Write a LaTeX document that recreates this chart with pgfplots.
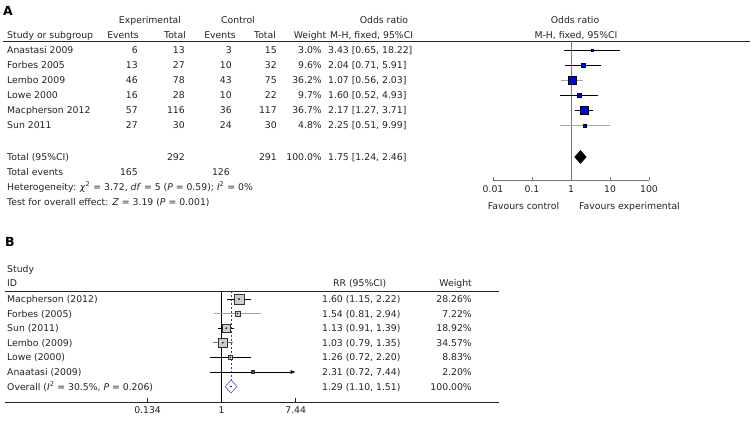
\documentclass[border=0pt]{standalone}
\usepackage{fontspec}
\setmainfont{DejaVu Sans}
\usepackage{pgfplots}
\pgfplotsset{compat=1.18}
\usetikzlibrary{arrows.meta}

\definecolor{fpblue}{RGB}{0,0,255}
\definecolor{dblue}{RGB}{80,80,225}
\definecolor{lgray}{RGB}{165,165,165}
\definecolor{mgray}{RGB}{120,120,120}
\definecolor{sqgray}{RGB}{205,205,205}
\definecolor{txt}{RGB}{35,35,35}

\newcommand{\fs}{\fontsize{9.3bp}{11bp}\selectfont}
% text node: anchor, x(px), y(px centre of row), text
\newcommand{\TX}[4]{\node[anchor=#1, inner sep=0pt, text=txt] at (axis cs:#2,{-(#3)-3.5}) {#4};}

\begin{document}
\fs
\begin{tikzpicture}[font=\fs]
\useasboundingbox (0,0) rectangle (754bp,422bp);

%================ canvas for text and rules ================
\begin{axis}[at={(0,0)}, anchor=south west, scale only axis,
  width=754bp, height=422bp, xmin=0, xmax=754, ymin=-422, ymax=0,
  hide axis, clip=false]
% ---- Panel A ----
\node[anchor=base west, inner sep=0pt, font=\fontsize{12.5bp}{14bp}\selectfont\bfseries] at (axis cs:3,-16) {A};
\TX{base}{150}{20}{Experimental}
\TX{base}{238}{20}{Control}
\TX{base}{384}{20}{Odds ratio}
\TX{base}{575}{20}{Odds ratio}
\TX{base west}{7}{35}{Study or subgroup}
\TX{base}{123}{35}{Events}
\TX{base}{175}{35}{Total}
\TX{base}{220}{35}{Events}
\TX{base}{265}{35}{Total}
\TX{base}{310}{35}{Weight}
\TX{base west}{330}{35}{M-H, fixed, 95\%CI}
\TX{base}{576}{35}{M-H, fixed, 95\%CI}
\addplot[black!85, line width=0.8bp] coordinates {(3,-41) (750,-41)};
% rows
\TX{base west}{7}{50}{Anastasi 2009}
\TX{base east}{138}{50}{6}
\TX{base east}{185}{50}{13}
\TX{base east}{232}{50}{3}
\TX{base east}{277}{50}{15}
\TX{base east}{322}{50}{3.0\%}
\TX{base west}{328}{50}{3.43 [0.65, 18.22]}
\TX{base west}{7}{65.1}{Forbes 2005}
\TX{base east}{138}{65.1}{13}
\TX{base east}{185}{65.1}{27}
\TX{base east}{232}{65.1}{10}
\TX{base east}{277}{65.1}{32}
\TX{base east}{322}{65.1}{9.6\%}
\TX{base west}{328}{65.1}{2.04 [0.71, 5.91]}
\TX{base west}{7}{80.2}{Lembo 2009}
\TX{base east}{138}{80.2}{46}
\TX{base east}{185}{80.2}{78}
\TX{base east}{232}{80.2}{43}
\TX{base east}{277}{80.2}{75}
\TX{base east}{322}{80.2}{36.2\%}
\TX{base west}{328}{80.2}{1.07 [0.56, 2.03]}
\TX{base west}{7}{95.3}{Lowe 2000}
\TX{base east}{138}{95.3}{16}
\TX{base east}{185}{95.3}{28}
\TX{base east}{232}{95.3}{10}
\TX{base east}{277}{95.3}{22}
\TX{base east}{322}{95.3}{9.7\%}
\TX{base west}{328}{95.3}{1.60 [0.52, 4.93]}
\TX{base west}{7}{110.4}{Macpherson 2012}
\TX{base east}{138}{110.4}{57}
\TX{base east}{185}{110.4}{116}
\TX{base east}{232}{110.4}{36}
\TX{base east}{277}{110.4}{117}
\TX{base east}{322}{110.4}{36.7\%}
\TX{base west}{328}{110.4}{2.17 [1.27, 3.71]}
\TX{base west}{7}{125.5}{Sun 2011}
\TX{base east}{138}{125.5}{27}
\TX{base east}{185}{125.5}{30}
\TX{base east}{232}{125.5}{24}
\TX{base east}{277}{125.5}{30}
\TX{base east}{322}{125.5}{4.8\%}
\TX{base west}{328}{125.5}{2.25 [0.51, 9.99]}
\TX{base west}{7}{157}{Total (95\%CI)}
\TX{base east}{185}{157}{292}
\TX{base east}{277}{157}{291}
\TX{base east}{322}{157}{100.0\%}
\TX{base west}{328}{157}{1.75 [1.24, 2.46]}
\TX{base west}{7}{172}{Total events}
\TX{base east}{138}{172}{165}
\TX{base east}{230}{172}{126}
\TX{base west}{7}{187}{Heterogeneity: \textit{χ}\textsuperscript{2} = 3.72, \textit{df} = 5 (\textit{P} = 0.59); \textit{I}\textsuperscript{2} = 0\%}
\TX{base west}{7}{202}{Test for overall effect: \textit{Z} = 3.19 (\textit{P} = 0.001)}
\TX{base}{523.5}{206}{Favours control}
\TX{base}{629.5}{206}{Favours experimental}
% ---- Panel B ----
\node[anchor=base west, inner sep=0pt, font=\fontsize{12.5bp}{14bp}\selectfont\bfseries] at (axis cs:5,-247) {B};
\TX{base west}{7}{269}{Study}
\TX{base west}{7}{283}{ID}
\TX{base west}{333}{283}{RR (95\%CI)}
\TX{base east}{472}{283}{Weight}
\TX{base west}{7}{299}{Macpherson (2012)}
\TX{base west}{322}{299}{1.60 (1.15, 2.22)}
\TX{base east}{472}{299}{28.26\%}
\TX{base west}{7}{313.6}{Forbes (2005)}
\TX{base west}{322}{313.6}{1.54 (0.81, 2.94)}
\TX{base east}{472}{313.6}{7.22\%}
\TX{base west}{7}{328.2}{Sun (2011)}
\TX{base west}{322}{328.2}{1.13 (0.91, 1.39)}
\TX{base east}{472}{328.2}{18.92\%}
\TX{base west}{7}{342.8}{Lembo (2009)}
\TX{base west}{322}{342.8}{1.03 (0.79, 1.35)}
\TX{base east}{472}{342.8}{34.57\%}
\TX{base west}{7}{357.4}{Lowe (2000)}
\TX{base west}{322}{357.4}{1.26 (0.72, 2.20)}
\TX{base east}{472}{357.4}{8.83\%}
\TX{base west}{7}{372}{Anaatasi (2009)}
\TX{base west}{322}{372}{2.31 (0.72, 7.44)}
\TX{base east}{472}{372}{2.20\%}
\TX{base west}{7}{386.6}{Overall (\textit{I}\textsuperscript{2} = 30.5\%, \textit{P} = 0.206)}
\TX{base west}{322}{386.6}{1.29 (1.10, 1.51)}
\TX{base east}{472}{386.6}{100.00\%}
\end{axis}

%================ Panel A forest plot ================
\begin{axis}[at={(493bp,242bp)}, anchor=south west, scale only axis,
  width=156bp, height=140bp, xmode=log, log basis x=10,
  xmin=0.01, xmax=100, ymin=-180, ymax=-40,
  axis x line=bottom, axis y line=none,
  x axis line style={mgray, line width=0.8bp, -},
  xtick={0.01,0.1,1,10,100}, xticklabels={0.01,0.1,1,10,100},
  tick align=inside, major tick length=3bp,
  xtick style={mgray, line width=0.8bp},
  xticklabel style={text=txt, font=\fs, yshift=-2bp},
  clip=false]
\addplot[mgray, line width=0.8bp] coordinates {(1,-41) (1,-180)};
% confidence intervals
\addplot[black, line width=0.6bp] coordinates {(0.65,-50) (18.22,-50)};
\addplot[black, line width=0.6bp] coordinates {(0.71,-65.1) (5.91,-65.1)};
\addplot[lgray, line width=0.8bp] coordinates {(0.56,-80.2) (2.03,-80.2)};
\addplot[black, line width=0.6bp] coordinates {(0.52,-95.3) (4.93,-95.3)};
\addplot[black, line width=0.6bp] coordinates {(1.27,-110.4) (3.71,-110.4)};
\addplot[lgray, line width=0.8bp] coordinates {(0.51,-125.5) (9.99,-125.5)};
% study squares (size from weight)
\addplot[only marks, mark=square*, mark size=1.1bp, mark options={fill=fpblue, draw=none}] coordinates {(3.43,-50)};
\addplot[only marks, mark=square*, mark size=1.8bp, mark options={fill=fpblue, draw=none}] coordinates {(2.04,-65.1)};
\addplot[only marks, mark=square*, mark size=3.7bp, mark options={fill=fpblue, draw=none}] coordinates {(1.07,-80.2)};
\addplot[only marks, mark=square*, mark size=1.8bp, mark options={fill=fpblue, draw=none}] coordinates {(1.60,-95.3)};
\addplot[only marks, mark=square*, mark size=3.7bp, mark options={fill=fpblue, draw=none}] coordinates {(2.17,-110.4)};
\addplot[only marks, mark=square*, mark size=1.3bp, mark options={fill=fpblue, draw=none}] coordinates {(2.25,-125.5)};
% pooled diamond
\addplot[fill=black, draw=black] coordinates {(1.24,-157) (1.75,-150.5) (2.46,-157) (1.75,-163.5)} --cycle;
\end{axis}

%================ Panel B forest plot ================
\begin{axis}[at={(5bp,20bp)}, anchor=south west, scale only axis,
  width=494bp, height=111bp, xmode=log, log basis x=10,
  xmin=0.0028035, xmax=1845.8, ymin=-402, ymax=-291,
  axis x line=bottom, axis y line=none,
  x axis line style={black!85, line width=0.8bp, -},
  xtick={0.134,1,7.44}, xticklabels={0.134,1,7.44},
  tick align=inside, major tick length=4bp,
  xtick style={black!85, line width=0.6bp},
  xticklabel style={text=txt, font=\fs, yshift=-1bp},
  clip=false]
\addplot[black!85, line width=0.8bp] coordinates {(0.0028035,-291) (1845.8,-291)};
\addplot[black, line width=0.7bp] coordinates {(1,-291) (1,-402)};
\addplot[black!75, line width=0.6bp, dash pattern=on 2bp off 2bp] coordinates {(1.29,-291) (1.29,-380)};
% confidence intervals
\addplot[black, line width=0.6bp] coordinates {(1.15,-299) (2.22,-299)};
\addplot[lgray, line width=0.9bp] coordinates {(0.81,-313.6) (2.94,-313.6)};
\addplot[black, line width=0.6bp] coordinates {(0.91,-328.2) (1.39,-328.2)};
\addplot[mgray, line width=0.8bp] coordinates {(0.79,-342.8) (1.35,-342.8)};
\addplot[black, line width=0.6bp] coordinates {(0.72,-357.4) (2.20,-357.4)};
\addplot[black, line width=0.6bp, -{Latex[length=5bp,width=4bp]}] coordinates {(0.72,-372) (7.44,-372)};
% squares
\addplot[only marks, mark=square*, mark size=5bp, mark options={fill=sqgray, draw=black!80, line width=0.5bp}] coordinates {(1.60,-299)};
\addplot[only marks, mark=square*, mark size=2.2bp, mark options={fill=sqgray, draw=black!80, line width=0.5bp}] coordinates {(1.54,-313.6)};
\addplot[only marks, mark=square*, mark size=3.6bp, mark options={fill=sqgray, draw=black!80, line width=0.5bp}] coordinates {(1.13,-328.2)};
\addplot[only marks, mark=square*, mark size=4.4bp, mark options={fill=sqgray, draw=black!80, line width=0.5bp}] coordinates {(1.03,-342.8)};
\addplot[only marks, mark=square*, mark size=2.3bp, mark options={fill=sqgray, draw=black!80, line width=0.5bp}] coordinates {(1.26,-357.4)};
\addplot[only marks, mark=square*, mark size=1.3bp, mark options={fill=black!70, draw=black!80, line width=0.4bp}] coordinates {(2.31,-372)};
% centre dots
\addplot[only marks, mark=*, mark size=0.5bp, black] coordinates {(1.60,-299) (1.54,-313.6) (1.13,-328.2) (1.03,-342.8) (1.26,-357.4) (1.29,-386.6)};
% overall diamond
\addplot[dblue, line width=0.6bp] coordinates {(1.10,-386.6) (1.29,-380.1) (1.51,-386.6) (1.29,-393.1)} --cycle;
\end{axis}
\end{tikzpicture}
\end{document}
